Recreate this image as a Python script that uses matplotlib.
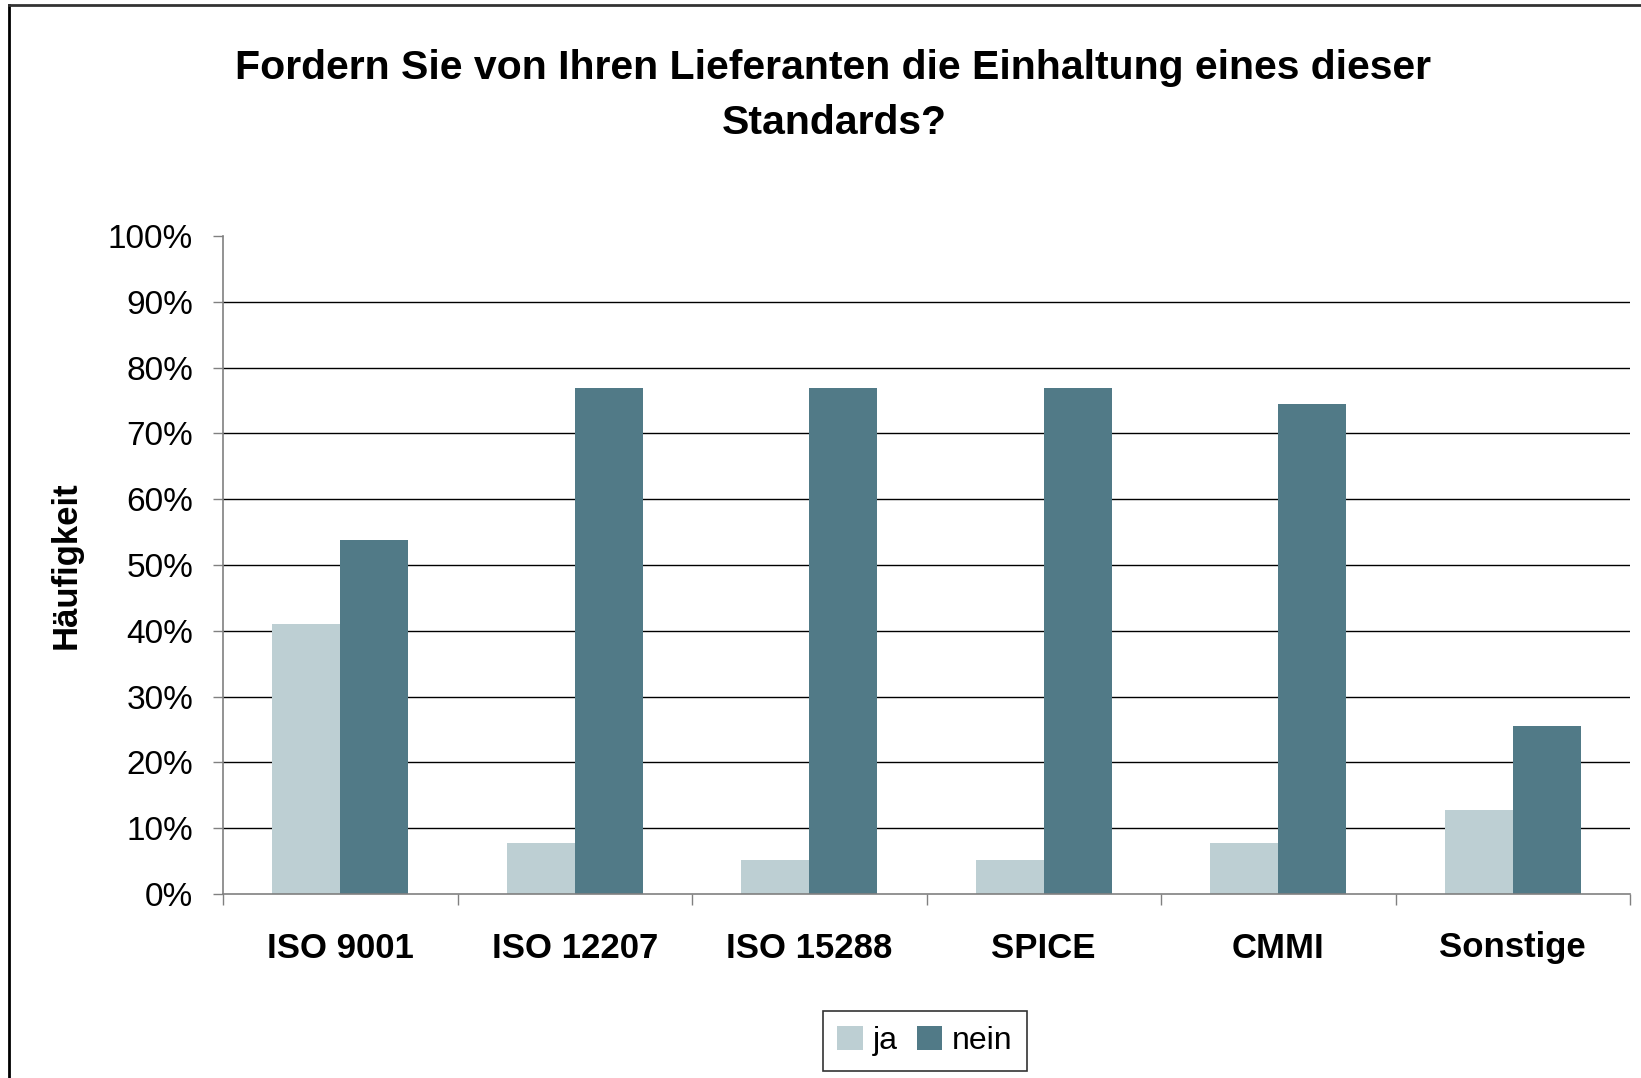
import matplotlib
matplotlib.use("Agg")
import matplotlib.pyplot as plt
from matplotlib.lines import Line2D
from matplotlib.patches import Patch
import numpy as np

plt.rcParams['font.family'] = ['Liberation Sans', 'DejaVu Sans']

# data (percent of answers, n = 39)
categories = ["ISO 9001", "ISO 12207", "ISO 15288", "SPICE", "CMMI", "Sonstige"]
ja = [41.0, 7.7, 5.1, 5.1, 7.7, 12.8]
nein = [53.8, 76.9, 76.9, 76.9, 74.4, 25.6]
series_names = ["ja", "nein"]
y_ticks = [0, 10, 20, 30, 40, 50, 60, 70, 80, 90, 100]

col_ja = "#BDCFD3"
col_nein = "#517A87"

fig = plt.figure(figsize=(16.41, 10.78), dpi=100)
ax = fig.add_axes([223 / 1641, 184 / 1078, 1407 / 1641, 658 / 1078])

x = np.arange(len(categories)) + 0.5
w = 0.29
ax.bar(x - w / 2, ja, width=w, color=col_ja, zorder=3)
ax.bar(x + w / 2, nein, width=w, color=col_nein, zorder=3)

# horizontal grid lines, not at 0 and 100
for t in y_ticks[1:-1]:
    ax.axhline(t, color="black", lw=1.0, zorder=1)

ax.set_xlim(0, len(categories))
ax.set_ylim(0, 100)
ax.set_yticks(y_ticks)
ax.set_yticklabels([f"{t}%" for t in y_ticks], fontsize=24)
ax.tick_params(axis="y", length=7.5, width=1, color="#808080", pad=14)

ax.set_xticks(x)
ax.set_xticklabels(categories, fontsize=25, fontweight="bold")
ax.tick_params(axis="x", which="major", length=0, pad=27)
ax.set_xticks(np.arange(len(categories) + 1), minor=True)
ax.tick_params(axis="x", which="minor", length=8, width=1, color="#808080")

for s in ["top", "right"]:
    ax.spines[s].set_visible(False)
for s in ["left", "bottom"]:
    ax.spines[s].set_color("#808080")
    ax.spines[s].set_linewidth(1.2)
    ax.spines[s].set_zorder(4)

ax.set_ylabel("Häufigkeit", fontsize=25, fontweight="bold", labelpad=18)

fig.text(833 / 1641, 1 - 68 / 1078, "Fordern Sie von Ihren Lieferanten die Einhaltung eines dieser",
         ha="center", va="center", fontsize=29.5, fontweight="bold")
fig.text(834 / 1641, 1 - 123 / 1078, "Standards?",
         ha="center", va="center", fontsize=29.5, fontweight="bold")

handles = [Patch(facecolor=col_ja), Patch(facecolor=col_nein)]
leg = fig.legend(handles, series_names, loc="center", bbox_to_anchor=(925 / 1641, 37 / 1078),
                 ncol=2, fontsize=23, frameon=True, fancybox=False,
                 handlelength=0.8, handleheight=0.8, handletextpad=0.3, columnspacing=0.6,
                 borderpad=0.45)
leg.get_frame().set_edgecolor("black")
leg.get_frame().set_linewidth(1.2)

# outer border (only top and left visible in the original crop)
fig.add_artist(Line2D([9 / 1641, 9 / 1641], [0, 1 - 5 / 1078], transform=fig.transFigure,
                      color="black", lw=2))
fig.add_artist(Line2D([9 / 1641, 1], [1 - 5 / 1078, 1 - 5 / 1078], transform=fig.transFigure,
                      color="#333333", lw=2))

fig.savefig("out.png", dpi=100)
